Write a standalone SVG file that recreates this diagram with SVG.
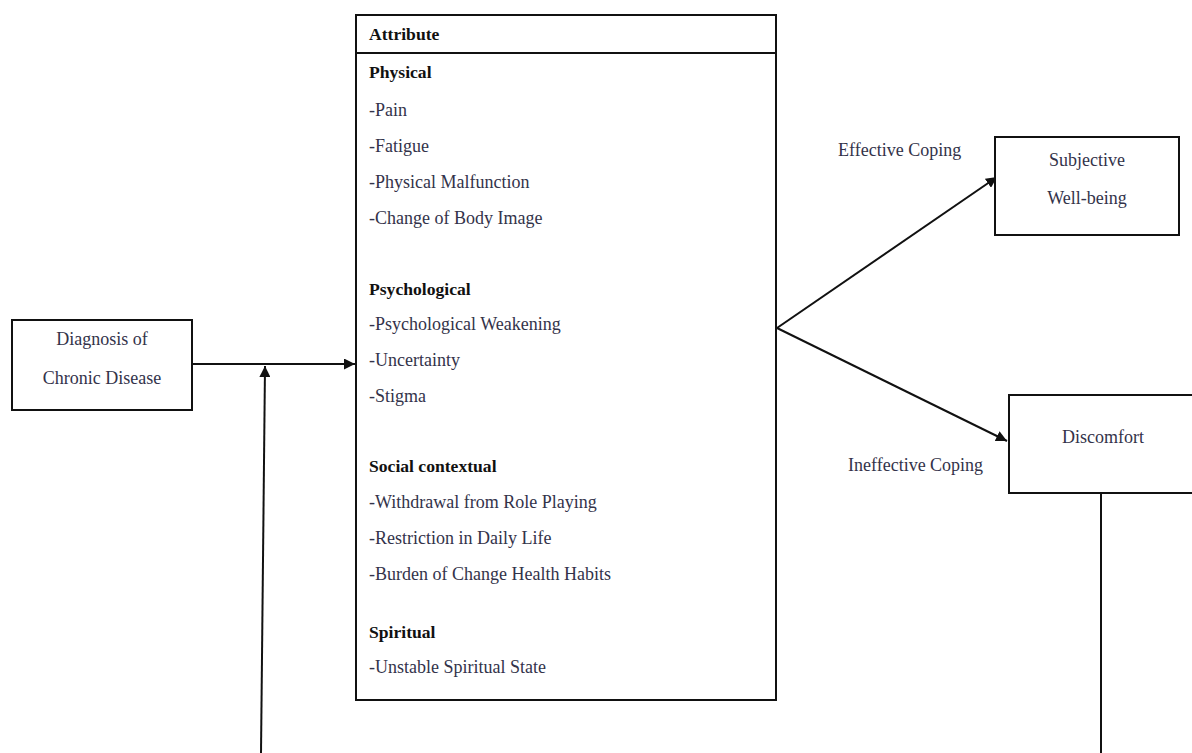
<svg xmlns="http://www.w3.org/2000/svg" width="1192" height="753" viewBox="0 0 1192 753">
<style>
.box{fill:#fff;stroke:#111;stroke-width:2}
.t{font-family:"Liberation Serif","DejaVu Serif",serif;font-size:18px;fill:#33334a}
.b{font-family:"Liberation Serif","DejaVu Serif",serif;font-size:17.6px;font-weight:bold;fill:#111}
.c{text-anchor:middle}
.ln{stroke:#111;stroke-width:2;fill:none}
</style>
<defs>
<marker id="ah" viewBox="0 0 10 10" refX="10" refY="5" markerWidth="11" markerHeight="11" markerUnits="userSpaceOnUse" orient="auto">
<path d="M0,0 L10,5 L0,10 z" fill="#111"/>
</marker>
</defs>
<rect width="1192" height="753" fill="#fff"/>
<g id="connectors">
<line class="ln" x1="192" y1="364" x2="355" y2="364" marker-end="url(#ah)"/>
<line class="ln" x1="261" y1="753" x2="265" y2="366" marker-end="url(#ah)"/>
<line class="ln" x1="777" y1="328" x2="997" y2="177" marker-end="url(#ah)"/>
<line class="ln" x1="777" y1="328" x2="1007" y2="441" marker-end="url(#ah)"/>
<line class="ln" x1="1101" y1="493" x2="1101" y2="753"/>
</g>
<g id="diagnosis">
<rect class="box" x="12" y="320" width="180" height="90"/>
<text class="t c" x="102" y="345">Diagnosis of</text>
<text class="t c" x="102" y="384">Chronic Disease</text>
</g>
<g id="attribute">
<rect class="box" x="356" y="15" width="420" height="685"/>
<line class="ln" x1="356" y1="53" x2="776" y2="53"/>
<text class="b" x="369" y="40">Attribute</text>
<text class="b" x="369" y="78">Physical</text>
<text class="t" x="369" y="116">-Pain</text>
<text class="t" x="369" y="152">-Fatigue</text>
<text class="t" x="369" y="188">-Physical Malfunction</text>
<text class="t" x="369" y="224">-Change of Body Image</text>
<text class="b" x="369" y="295">Psychological</text>
<text class="t" x="369" y="330">-Psychological Weakening</text>
<text class="t" x="369" y="366">-Uncertainty</text>
<text class="t" x="369" y="402">-Stigma</text>
<text class="b" x="369" y="472">Social contextual</text>
<text class="t" x="369" y="508">-Withdrawal from Role Playing</text>
<text class="t" x="369" y="544">-Restriction in Daily Life</text>
<text class="t" x="369" y="580">-Burden of Change Health Habits</text>
<text class="b" x="369" y="638">Spiritual</text>
<text class="t" x="369" y="673">-Unstable Spiritual State</text>
</g>
<g id="wellbeing">
<rect class="box" x="995" y="137" width="184" height="98"/>
<text class="t c" x="1087" y="166">Subjective</text>
<text class="t c" x="1087" y="204">Well-being</text>
</g>
<g id="discomfort">
<rect class="box" x="1009" y="395" width="190" height="98"/>
<text class="t c" x="1103" y="443">Discomfort</text>
</g>
<g id="labels">
<text class="t" x="838" y="156">Effective Coping</text>
<text class="t" x="848" y="471">Ineffective Coping</text>
</g>
</svg>
